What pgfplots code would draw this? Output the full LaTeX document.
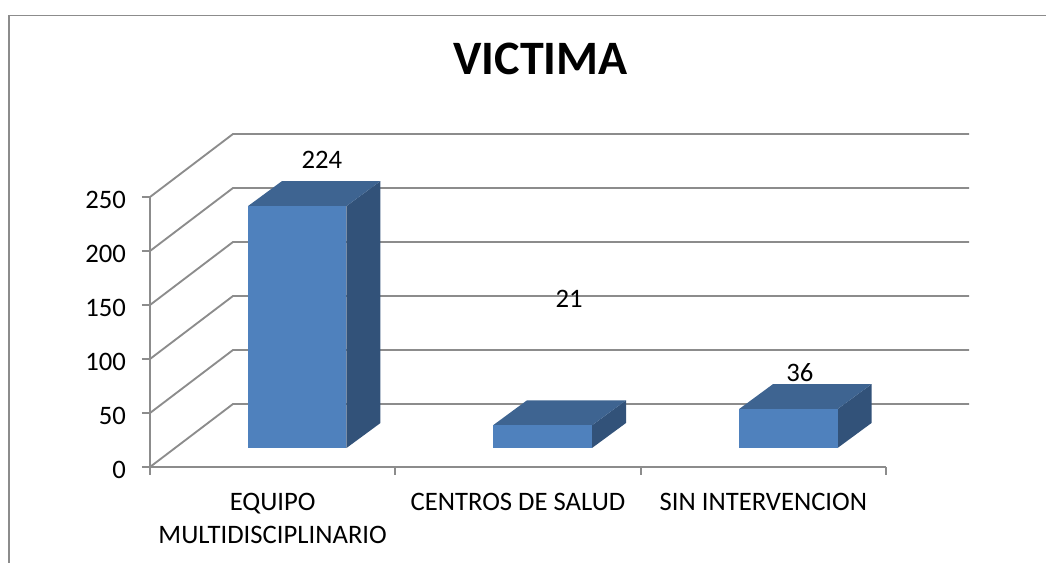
\documentclass[border=0pt]{standalone}
\usepackage{pgfplots}
\pgfplotsset{compat=1.18}
\usepackage{fontspec}
\setmainfont{Carlito}
\definecolor{gridc}{HTML}{8C8C8C}
\definecolor{framec}{HTML}{8C8C8C}
\definecolor{barfront}{HTML}{4F81BD}
\definecolor{bartop}{HTML}{3E6491}
\definecolor{barside}{HTML}{325279}
\begin{document}
\begin{tikzpicture}[x=1pt,y=1pt]
\path[use as bounding box] (0,0) rectangle (784.5,422.25);
\draw[framec,line width=1pt] (6.7,0) -- (6.7,410.6) -- (784.5,410.6);
\node[font=\fontsize{36pt}{42pt}\selectfont\bfseries,anchor=center] at (405.5,378) {VICTIMA};
\begin{axis}[
  at={(112.5pt,72pt)}, anchor=south west,
  x=184pt, y=0.81pt,
  xmin=0, xmax=3, ymin=0, ymax=250,
  clip=false,
  axis lines=left,
  axis line style={-,gridc,line width=1.4pt},
  tick style={gridc,line width=1.4pt},
  major tick length=6pt,
  tick align=outside,
  xtick={0,1,2,3}, xticklabels={,,,},
  ytick={0,50,100,150,200,250},
  yticklabel style={/pgf/number format/assume math mode=true,font=\fontsize{20pt}{24.75pt}\selectfont,xshift=-8.5pt,yshift=-2.5pt},
  extra x ticks={0.5,1.5,2.5},
  extra x tick labels={EQUIPO\\MULTIDISCIPLINARIO,CENTROS DE SALUD,SIN INTERVENCION},
  extra x tick style={major tick length=0pt,
    tick label style={align=center,anchor=north,font=\fontsize{20pt}{24.75pt}\selectfont,yshift=-15.75pt}},
  barshift/.style={xshift=18.75pt,yshift=14.25pt,draw=none,forget plot},
]
% back walls and side-wall gridlines
\addplot[gridc,line width=1.4pt,forget plot] coordinates {(0,0)(0.3383,58.33)(3.3383,58.33)};
\addplot[gridc,line width=1.4pt,forget plot] coordinates {(0,50)(0.3383,108.33)(3.3383,108.33)};
\addplot[gridc,line width=1.4pt,forget plot] coordinates {(0,100)(0.3383,158.33)(3.3383,158.33)};
\addplot[gridc,line width=1.4pt,forget plot] coordinates {(0,150)(0.3383,208.33)(3.3383,208.33)};
\addplot[gridc,line width=1.4pt,forget plot] coordinates {(0,200)(0.3383,258.33)(3.3383,258.33)};
\addplot[gridc,line width=1.4pt,forget plot] coordinates {(0,250)(0.3383,308.33)(3.3383,308.33)};
% bars: value 224
\addplot[fill=barside,barshift] coordinates {(0.6990,0)(0.8376,23.15)(0.8376,247.15)(0.6990,224)} -- cycle;
\addplot[fill=bartop,barshift] coordinates {(0.2976,224)(0.6990,224)(0.8376,247.15)(0.4362,247.15)} -- cycle;
\addplot[fill=barfront,barshift] coordinates {(0.2976,0)(0.6990,0)(0.6990,224)(0.2976,224)} -- cycle;
% value 21
\addplot[fill=barside,barshift] coordinates {(1.6997,0)(1.8383,23.15)(1.8383,44.15)(1.6997,21)} -- cycle;
\addplot[fill=bartop,barshift] coordinates {(1.2962,21)(1.6997,21)(1.8383,44.15)(1.4348,44.15)} -- cycle;
\addplot[fill=barfront,barshift] coordinates {(1.2962,0)(1.6997,0)(1.6997,21)(1.2962,21)} -- cycle;
% value 36
\addplot[fill=barside,barshift] coordinates {(2.7005,0)(2.8391,23.15)(2.8391,59.15)(2.7005,36)} -- cycle;
\addplot[fill=bartop,barshift] coordinates {(2.2989,36)(2.7005,36)(2.8391,59.15)(2.4375,59.15)} -- cycle;
\addplot[fill=barfront,barshift] coordinates {(2.2989,0)(2.7005,0)(2.7005,36)(2.2989,36)} -- cycle;
\node[font=\fontsize{20pt}{24pt}\selectfont] at (axis cs:0.701,284.3) {224};
\node[font=\fontsize{20pt}{24pt}\selectfont] at (axis cs:1.708,156) {21};
\node[font=\fontsize{20pt}{24pt}\selectfont] at (axis cs:2.649,87) {36};
\end{axis}
\end{tikzpicture}
\end{document}
